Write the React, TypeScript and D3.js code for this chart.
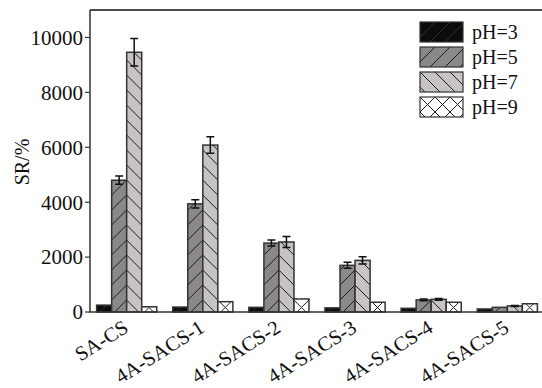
import React from 'react';
import * as d3 from 'd3';

const samples = ['SA-CS', '4A-SACS-1', '4A-SACS-2', '4A-SACS-3', '4A-SACS-4', '4A-SACS-5'];
const seriesNames = ['pH=3', 'pH=5', 'pH=7', 'pH=9'];
const ph3 = [250, 180, 170, 150, 135, 110];
const ph5 = [4800, 3940, 2510, 1700, 440, 170];
const ph7 = [9460, 6080, 2550, 1880, 460, 220];
const ph9 = [190, 375, 475, 355, 355, 300];
const ph5Err = [150, 150, 110, 110, 30, 0];
const ph7Err = [500, 300, 200, 130, 30, 20];
const yTicks = [0, 2000, 4000, 6000, 8000, 10000];

const W = 542;
const H = 388;
const margin = { left: 90, top: 10, right: 545, bottom: 312 };
const font = '"Liberation Serif", "DejaVu Serif", serif';

const fills = ['url(#p3)', 'url(#p5)', 'url(#p7)', 'url(#p9)'];

const App = () => {
  const values = [ph3, ph5, ph7, ph9];
  const errors = [null, ph5Err, ph7Err, null];

  const x0 = d3.scaleBand<string>()
    .domain(samples)
    .range([89, 545])
    .paddingInner(0.21)
    .paddingOuter(0.1);

  const x1 = d3.scaleBand<string>()
    .domain(seriesNames)
    .range([0, x0.bandwidth()]);

  const y = d3.scaleLinear()
    .domain([0, 11000])
    .range([margin.bottom, margin.top]);

  const s = 15; // hatch spacing

  return (
    <svg width={W} height={H} style={{ position: 'absolute', left: 0, top: 0, background: '#fff' }}>
      <defs>
        <pattern id="p3" patternUnits="userSpaceOnUse" width={s} height={s}>
          <rect width={s} height={s} fill="#0c0c0c" />
          <path d={`M0,${s}L${s},0M-3,3L3,-3M${s - 3},${s + 3}L${s + 3},${s - 3}`} stroke="#3a3a3a" strokeWidth={0.8} />
        </pattern>
        <pattern id="p5" patternUnits="userSpaceOnUse" width={s} height={s}>
          <rect width={s} height={s} fill="#8a888a" />
          <path d={`M0,${s}L${s},0M-3,3L3,-3M${s - 3},${s + 3}L${s + 3},${s - 3}`} stroke="#1a1a1a" strokeWidth={1} />
        </pattern>
        <pattern id="p7" patternUnits="userSpaceOnUse" width={s} height={s}>
          <rect width={s} height={s} fill="#c6c2c6" />
          <path d={`M0,0L${s},${s}M-3,${s - 3}L3,${s + 3}M${s - 3},-3L${s + 3},3`} stroke="#1a1a1a" strokeWidth={1} />
        </pattern>
        <pattern id="p9" patternUnits="userSpaceOnUse" width={s} height={s}>
          <rect width={s} height={s} fill="#ffffff" />
          <path d={`M0,0L${s},${s}M-3,${s - 3}L3,${s + 3}M${s - 3},-3L${s + 3},3M0,${s}L${s},0M-3,3L3,-3M${s - 3},${s + 3}L${s + 3},${s - 3}`} stroke="#1a1a1a" strokeWidth={1} />
        </pattern>
      </defs>

      {/* bars */}
      {samples.map((name, i) => (
        <g key={name} transform={`translate(${x0(name)},0)`}>
          {seriesNames.map((ser, k) => {
            const v = values[k][i];
            const bx = x1(ser) as number;
            const bw = x1.bandwidth();
            const err = errors[k] ? (errors[k] as number[])[i] : 0;
            return (
              <g key={ser}>
                <rect x={bx} y={y(v)} width={bw} height={y(0) - y(v)}
                  fill={fills[k]} stroke="#333" strokeWidth={1.5} />
                {err > 0 && (
                  <path
                    d={`M${bx + bw / 2 - 4},${y(v + err)}H${bx + bw / 2 + 4}M${bx + bw / 2},${y(v + err)}V${y(v - err)}M${bx + bw / 2 - 4},${y(v - err)}H${bx + bw / 2 + 4}`}
                    stroke="#111" strokeWidth={1.5} fill="none" />
                )}
              </g>
            );
          })}
        </g>
      ))}

      {/* frame */}
      <path d={`M${margin.left},${margin.top}H${margin.right}`} stroke="#111" strokeWidth={1.5} />
      <path d={`M${margin.left},${margin.top}V${margin.bottom}H${margin.right}`} stroke="#333" strokeWidth={1.5} fill="none" />

      {/* y ticks */}
      {yTicks.map(t => (
        <g key={t} transform={`translate(0,${y(t)})`}>
          <line x1={margin.left - 5} x2={margin.left} stroke="#333" strokeWidth={1.2} />
          <text x={margin.left - 7} dy="0.35em" textAnchor="end" fontFamily={font} fontSize={21} fill="#111">{t}</text>
        </g>
      ))}

      <text transform="translate(29,162) rotate(-90)" textAnchor="middle" fontFamily={font} fontSize={20} fill="#111">SR/%</text>

      {/* x labels */}
      {samples.map(name => (
        <text key={name}
          transform={`translate(${(x0(name) as number) + x0.bandwidth() / 2 + 3},331) rotate(-32)`}
          textAnchor="end" fontFamily={font} fontSize={20.5} fill="#111">{name}</text>
      ))}

      {/* legend */}
      {seriesNames.map((ser, k) => (
        <g key={ser} transform={`translate(420,${22 + k * 25})`}>
          <rect width={43} height={20} fill={fills[k]} stroke="#333" strokeWidth={1.2} />
          <text x={52} y={10} dy="0.35em" fontFamily={font} fontSize={20} fill="#111">{ser}</text>
        </g>
      ))}
    </svg>
  );
};

export default App;
